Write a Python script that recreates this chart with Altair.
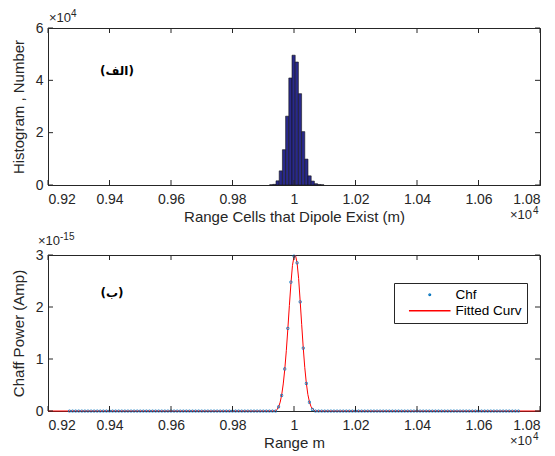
import altair as alt
import pandas as pd

# ---------------- data ----------------
hist_lo = [9920.7, 9931.1, 9941.5, 9951.9, 9962.3, 9972.7, 9983.1, 9993.5,
           10003.9, 10014.3, 10024.7, 10035.1, 10045.5, 10055.9, 10066.3,
           10076.7, 10087.1]
hist_count = [100, 250, 1600, 5400, 13500, 26300, 40900, 49600,
              47000, 34900, 20400, 9900, 3500, 1500, 500, 200, 80]
bin_width = 10.4

chf_start, chf_stop, chf_step = 9270, 10730, 10
chf_peak_range = [9950, 9960, 9970, 9980, 9990, 10000, 10010, 10020,
                  10030, 10040, 10050, 10060]
chf_peak_power = [0.08, 0.30, 0.81, 1.59, 2.48, 2.98, 2.85, 2.10,
                  1.21, 0.53, 0.17, 0.03]  # x 1e-15

fit_range = [9200, 9940, 9945, 9950, 9955, 9960, 9965, 9970, 9975, 9980,
             9985, 9990, 9995, 10000, 10005, 10010, 10015, 10020, 10025,
             10030, 10035, 10040, 10045, 10050, 10055, 10060, 10065,
             10070, 10800]
fit_power = [0.0, 0.0, 0.03, 0.08, 0.17, 0.31, 0.52, 0.80, 1.16, 1.58,
             2.03, 2.45, 2.80, 2.97, 2.99, 2.85, 2.55, 2.12, 1.66,
             1.22, 0.84, 0.54, 0.32, 0.18, 0.09, 0.04, 0.015,
             0.0, 0.0]

x_ticks = [9200, 9400, 9600, 9800, 10000, 10200, 10400, 10600, 10800]
y_ticks_top = [0, 20000, 40000, 60000]
y_ticks_bot = [0, 1, 2, 3]

series_names = ["Chf", "Fitted Curv"]
series_colors = ["#0072BD", "#FF0000"]

# ---------------- frames ----------------
hist_df = pd.DataFrame({"lo": hist_lo, "count": hist_count})
hist_df["hi"] = hist_df["lo"] + bin_width
hist_df["base"] = 0

peak_map = dict(zip(chf_peak_range, chf_peak_power))
chf_x = list(range(chf_start, chf_stop + 1, chf_step))
chf_df = pd.DataFrame({"r": chf_x, "p": [peak_map.get(v, 0.0) for v in chf_x]})
chf_df["series"] = "Chf"
fit_df = pd.DataFrame({"r": fit_range, "p": fit_power})

xt_df = pd.DataFrame({"t": x_ticks})
yt_top_df = pd.DataFrame({"t": y_ticks_top})
yt_bot_df = pd.DataFrame({"t": y_ticks_bot})

W, H1, H2 = 492, 157, 156
TK = 5
FONT = "Liberation Sans"
AX = "#262626"

x_scale = alt.Scale(domain=[9200, 10800], nice=False, zero=False)
y_scale_top = alt.Scale(domain=[0, 60000], nice=False)
y_scale_bot = alt.Scale(domain=[0, 3], nice=False)

x_label_expr = "datum.value == 10000 ? '1' : format(datum.value / 10000, '.2f')"


def x_axis(title):
    return alt.Axis(values=x_ticks, labelExpr=x_label_expr, title=title,
                    ticks=False, grid=False, labelPadding=7, titlePadding=3)


def y_axis(values, title, expr):
    return alt.Axis(values=values, labelExpr=expr, title=title, ticks=False,
                    grid=False, labelPadding=5, titlePadding=9)


xa_top = x_axis("Range Cells that Dipole Exist (m)")
xa_bot = x_axis("Range m")
ya_top = y_axis(y_ticks_top, "Histogram , Number", "format(datum.value / 10000, 'd')")
ya_bot = y_axis(y_ticks_bot, "Chaff Power (Amp)", "format(datum.value, 'd')")


def tick_layers(y_df, y_scale, xa, ya, H):
    xb = alt.Chart(xt_df).mark_rule(color=AX, strokeWidth=1).encode(
        x=alt.X("t:Q", scale=x_scale, axis=xa),
        y=alt.value(H), y2=alt.value(H - TK))
    xt = alt.Chart(xt_df).mark_rule(color=AX, strokeWidth=1).encode(
        x=alt.X("t:Q", scale=x_scale, axis=xa),
        y=alt.value(0), y2=alt.value(TK))
    yl = alt.Chart(y_df).mark_rule(color=AX, strokeWidth=1).encode(
        y=alt.Y("t:Q", scale=y_scale, axis=ya),
        x=alt.value(0), x2=alt.value(TK))
    yr = alt.Chart(y_df).mark_rule(color=AX, strokeWidth=1).encode(
        y=alt.Y("t:Q", scale=y_scale, axis=ya),
        x=alt.value(W - TK), x2=alt.value(W))
    return [xb, xt, yl, yr]


def text_layer(txt, x, y, align="left", size=13, weight="normal", font=FONT,
               baseline="alphabetic", color=AX):
    return alt.Chart(pd.DataFrame({"t": [txt]})).mark_text(
        align=align, baseline=baseline, fontSize=size, fontWeight=weight,
        font=font, color=color).encode(
        text="t:N", x=alt.value(x), y=alt.value(y))


def exponent(base_x, base_y, exp_txt, align="left"):
    # "×10" plus a raised exponent
    if align == "left":
        return [text_layer("×10", base_x, base_y, size=13),
                text_layer(exp_txt, base_x + 22, base_y - 5, size=10)]
    return [text_layer("×10", base_x, base_y, align="right", size=13),
            text_layer(exp_txt, base_x + 1, base_y - 5, size=10)]


# ---------------- top panel ----------------
bars = alt.Chart(hist_df).mark_rect(color="#29298A", stroke="#151515",
                                    strokeWidth=0.6).encode(
    x=alt.X("lo:Q", scale=x_scale, axis=xa_top),
    x2="hi:Q",
    y=alt.Y("count:Q", scale=y_scale_top, axis=ya_top),
    y2="base:Q")

top = alt.layer(
    bars,
    *tick_layers(yt_top_df, y_scale_top, xa_top, ya_top, H1),
    *exponent(1, -6, "4"),
    *exponent(W - 8, H1 + 34, "4", align="right"),
    text_layer("(الف)", 69, 43, align="center", size=12, weight="bold",
               font="DejaVu Sans", baseline="middle", color="#000000"),
).properties(width=W, height=H1)

# ---------------- bottom panel ----------------
fit_line = alt.Chart(fit_df).mark_line(color="#FF0000", strokeWidth=1).encode(
    x=alt.X("r:Q", scale=x_scale, axis=xa_bot),
    y=alt.Y("p:Q", scale=y_scale_bot, axis=ya_bot))

legend = alt.Legend(title=None, orient="none", legendX=346, legendY=28,
                    strokeColor=AX, fillColor="white", padding=5,
                    labelFont=FONT, labelFontSize=13.5, labelColor="#000000",
                    symbolStrokeWidth=1.3, rowPadding=1,
                    symbolSize=3, symbolOffset=24, labelOffset=19,
                    cornerRadius=0)

points = alt.Chart(chf_df).mark_point(filled=False, strokeWidth=2.5, size=0.5,
                                      opacity=1).encode(
    x=alt.X("r:Q", scale=x_scale, axis=xa_bot),
    y=alt.Y("p:Q", scale=y_scale_bot, axis=ya_bot),
    color=alt.Color("series:N", scale=alt.Scale(domain=series_names,
                                                range=series_colors),
                    legend=legend),
    shape=alt.Shape("series:N", scale=alt.Scale(
        domain=series_names, range=["circle", "M-24,0L24,0"]),
        legend=legend),
)

bottom = alt.layer(
    fit_line,
    points,
    *tick_layers(yt_bot_df, y_scale_bot, xa_bot, ya_bot, H2),
    *exponent(-10, -10, "-15"),
    *exponent(W - 8, H2 + 34, "4", align="right"),
    text_layer("(ب)", 64, 38, align="center", size=12, weight="bold",
               font="DejaVu Sans", baseline="middle", color="#000000"),
).properties(width=W, height=H2)

chart = alt.vconcat(top, bottom, spacing=6).resolve_scale(
    x="independent", y="independent", color="independent",
    shape="independent"
).properties(
    padding={"left": 2, "top": 0, "right": 2, "bottom": 0},
    background="white",
).configure_view(
    stroke=AX, strokeWidth=1
).configure_axis(
    labelFont=FONT, labelFontSize=14, labelColor=AX,
    titleFont=FONT, titleFontSize=15, titleColor=AX,
    titleFontWeight="normal", domainColor=AX, domainWidth=1,
)

chart.save("out.html", embed_options={"renderer": "svg", "actions": False})
